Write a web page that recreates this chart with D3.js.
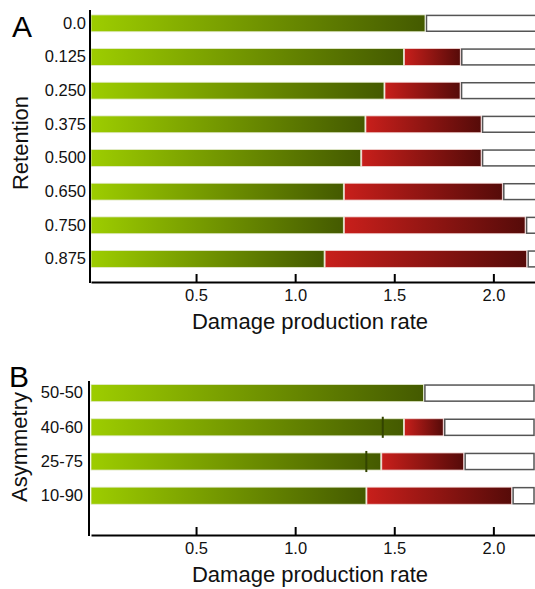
<!DOCTYPE html>
<html>
<meta charset="utf-8">
<title>Damage production rate bars</title>
<style>
body { margin: 0; background: #fff; }
svg { display: block; font-family: "Liberation Sans", Arial, Helvetica, sans-serif; }
.axis path, .axis line { stroke: #000; stroke-width: 2; }
.axis text { font-size: 16.5px; fill: #111; }
.title { font-size: 22px; fill: #111; }
.panel { font-size: 30px; fill: #000; }
</style>
<body>
<svg></svg>
<script src="https://d3js.org/d3.v7.min.js"></script>
<script>

// panel A: retention
var retention = ["0.0", "0.125", "0.250", "0.375", "0.500", "0.650", "0.750", "0.875"];
var retentionGreen = [1.655, 1.546, 1.448, 1.352, 1.331, 1.243, 1.243, 1.146];
var retentionRed   = [1.655, 1.833, 1.832, 1.938, 1.938, 2.045, 2.160, 2.168];
var retentionTotal = 2.25;

// panel B: asymmetry
var asymmetry = ["50-50", "40-60", "25-75", "10-90"];
var asymGreen  = [1.647, 1.546, 1.432, 1.357];
var asymRed    = [1.647, 1.747, 1.850, 2.092];
var asymMarker = [null, 1.442, 1.359, null];
var asymTotal = 2.205;

var xTicks = [0.5, 1.0, 1.5, 2.0];
var xMin = -0.03;

var width = 535, height = 589;
var svg = d3.select("svg").attr("width", width).attr("height", height);

var defs = svg.append("defs");
function grad(id, c0, c1) {
  var g = defs.append("linearGradient").attr("id", id)
      .attr("x1", 0).attr("x2", 1).attr("y1", 0).attr("y2", 0);
  g.append("stop").attr("offset", "0%").attr("stop-color", c0);
  g.append("stop").attr("offset", "100%").attr("stop-color", c1);
}
grad("green", "#9dcd00", "#445a00");
grad("red", "#c81f1b", "#560b09");

var x = d3.scaleLinear().domain([xMin, 2.21]).range([91, 535]);

function panel(opts) {
  var y = d3.scaleBand().domain(opts.cats).range(opts.yRange)
      .paddingInner(0.5).paddingOuter(0.25);
  var g = svg.append("g");
  var rows = opts.cats.map(function(c, i) {
    return { cat: c, green: opts.green[i], red: opts.red[i],
             marker: opts.marker ? opts.marker[i] : null };
  });

  // white remainder boxes
  g.selectAll(".rest").data(rows).enter().append("rect")
      .attr("x", function(d) { return x(d.red) + 1.5; })
      .attr("y", function(d) { return y(d.cat) + 0.5; })
      .attr("width", function(d) { return x(opts.total) - x(d.red) - 1.5; })
      .attr("height", y.bandwidth() - 1)
      .attr("fill", "#fff").attr("stroke", "#555").attr("stroke-width", 1.5);

  // red segment
  g.selectAll(".red").data(rows.filter(function(d) { return d.red > d.green; }))
    .enter().append("rect")
      .attr("x", function(d) { return x(d.green) + 1; })
      .attr("y", function(d) { return y(d.cat); })
      .attr("width", function(d) { return x(d.red) - x(d.green) - 1; })
      .attr("height", y.bandwidth())
      .attr("fill", "url(#red)")
      .attr("stroke", "#f2d6d4").attr("stroke-width", 0.8);

  // green segment
  g.selectAll(".green").data(rows).enter().append("rect")
      .attr("x", x(xMin))
      .attr("y", function(d) { return y(d.cat); })
      .attr("width", function(d) { return x(d.green) - x(xMin); })
      .attr("height", y.bandwidth())
      .attr("fill", "url(#green)")
      .attr("stroke", "#e4ebcf").attr("stroke-width", 0.8);

  // small markers inside green
  g.selectAll(".mark").data(rows.filter(function(d) { return d.marker != null; }))
    .enter().append("line")
      .attr("x1", function(d) { return x(d.marker); })
      .attr("x2", function(d) { return x(d.marker); })
      .attr("y1", function(d) { return y(d.cat) - 2; })
      .attr("y2", function(d) { return y(d.cat) + y.bandwidth() + 2; })
      .attr("stroke", "#334400").attr("stroke-width", 2);

  // x axis
  var xa = g.append("g").attr("class", "axis")
      .attr("transform", "translate(0," + opts.axisY + ")")
      .call(d3.axisBottom(x).tickValues(xTicks).tickFormat(d3.format(".1f"))
            .tickSizeInner(-8).tickSizeOuter(0).tickPadding(7));
  xa.selectAll(".tick line").attr("stroke-width", 1.5);

  // y axis (labels only) + line
  var ya = g.append("g").attr("class", "axis")
      .attr("transform", "translate(" + opts.axisX + ",0)")
      .call(d3.axisLeft(y).tickSize(0).tickPadding(opts.labelPad));
  ya.select(".domain").remove();
  g.append("line")
      .attr("x1", opts.axisX).attr("x2", opts.axisX)
      .attr("y1", opts.axisTop).attr("y2", opts.axisY + 1)
      .attr("stroke", "#000").attr("stroke-width", 2);

  g.append("text").attr("class", "title")
      .attr("x", 310).attr("y", opts.axisY + 47)
      .attr("text-anchor", "middle")
      .text("Damage production rate");

  g.append("text").attr("class", "title")
      .attr("transform", "translate(" + opts.yTitleX + "," + opts.yTitleY + ") rotate(-90)")
      .attr("text-anchor", "middle")
      .text(opts.yTitle);

  g.append("text").attr("class", "panel")
      .attr("x", opts.letterX).attr("y", opts.letterY)
      .text(opts.letter);
}

panel({
  cats: retention, green: retentionGreen, red: retentionRed, total: retentionTotal,
  yRange: [6.5, 275.8], axisY: 282, axisX: 90, axisTop: 10, labelPad: 4,
  yTitle: "Retention", yTitleX: 28, yTitleY: 143,
  letter: "A", letterX: 12, letterY: 37
});

panel({
  cats: asymmetry, green: asymGreen, red: asymRed, marker: asymMarker, total: asymTotal,
  yRange: [376, 512.8], axisY: 535, axisX: 89, axisTop: 381, labelPad: 6,
  yTitle: "Asymmetry", yTitleX: 27, yTitleY: 447,
  letter: "B", letterX: 9, letterY: 387
});

</script>
</body>
</html>
